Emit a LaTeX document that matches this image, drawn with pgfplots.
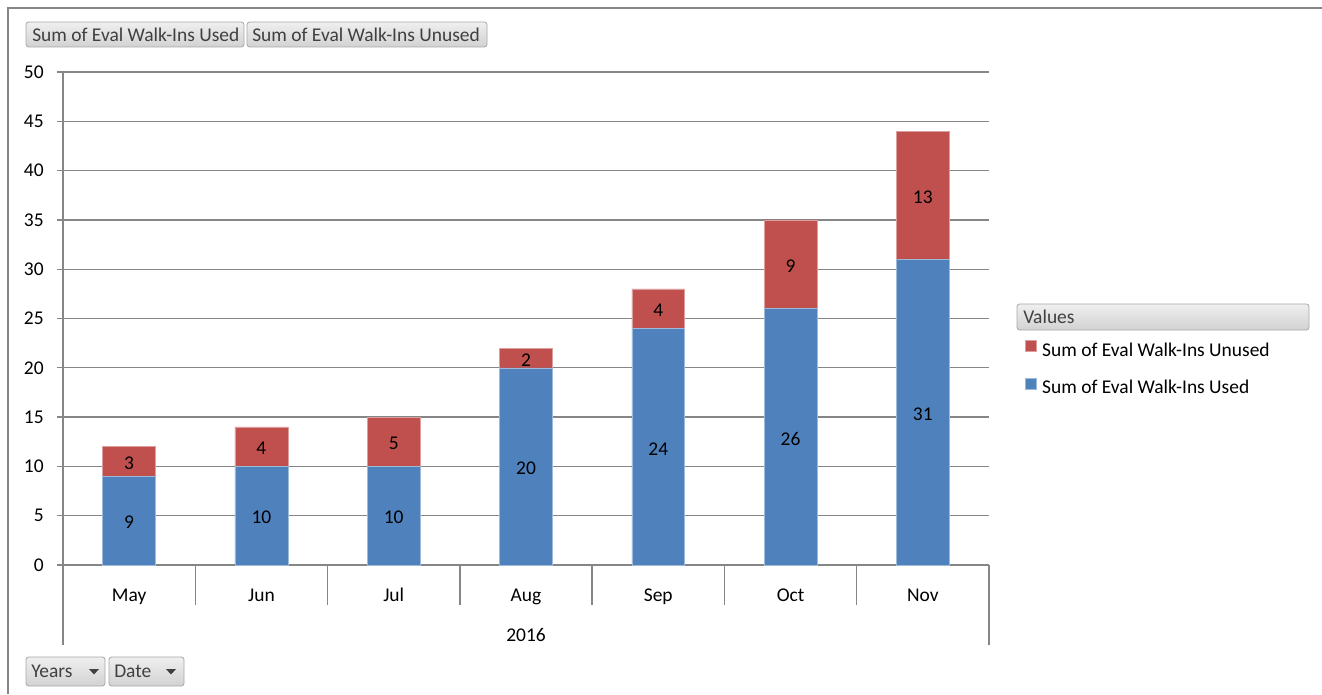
\documentclass[border=0pt]{standalone}
\usepackage{fontspec}
\setmainfont{Carlito}
\usepackage{pgfplots}
\usepackage{pgfplotstable}
\pgfplotsset{compat=1.18}

\definecolor{usedblue}{HTML}{4F81BD}
\definecolor{unusedred}{HTML}{C0504D}
\definecolor{axisgray}{HTML}{868686}
\definecolor{btnedge}{HTML}{A8A8A8}
\definecolor{btntop}{HTML}{EFEFEF}
\definecolor{btnbottom}{HTML}{D2D2D2}
\definecolor{btntext}{HTML}{404040}

\newcommand{\chartfont}{\fontsize{14.6}{16}\selectfont}

% Evaluation walk-ins per month, 2016
\pgfplotstableread{
x month used unused
0 May 9  3
1 Jun 10 4
2 Jul 10 5
3 Aug 20 2
4 Sep 24 4
5 Oct 26 9
6 Nov 31 13
}\walkins

\pgfplotsset{
  /pgf/number format/assume math mode=true,
  walkin frame/.style={
    at={(47.25pt,96.75pt)}, anchor=south west,
    scale only axis, width=694.5pt, height=369.75pt,
    xmin=-0.5, xmax=6.5, ymin=0, ymax=50,
  },
}

\begin{document}
\begin{tikzpicture}
% page frame and pivot-field buttons (1 unit = 0.75pt)
\begin{scope}[x=0.75pt,y=0.75pt]
  \path[use as bounding box] (0,0) rectangle (1322,694);
  \draw[axisgray, line width=1.2pt] (8,0) -- (8,686) -- (1322,686);
  \tikzset{btn/.style={draw=btnedge, line width=0.6pt, rounded corners=2pt,
      top color=btntop, bottom color=btnbottom}}
  \tikzset{btnlabel/.style={anchor=west, inner sep=0pt, text=btntext, font=\chartfont}}
  % top buttons
  \path[btn] (26,647) rectangle (244,672);
  \node[btnlabel] at (32,659.5) {Sum of Eval Walk-Ins Used};
  \path[btn] (247,647) rectangle (487,672);
  \node[btnlabel] at (252,659.5) {Sum of Eval Walk-Ins Unused};
  % legend header
  \path[btn] (1017,364) rectangle (1309,390);
  \node[btnlabel] at (1023,377) {Values};
  % bottom buttons
  \path[btn] (26,8) rectangle (105,37);
  \node[btnlabel] at (31,22.5) {Years};
  \fill[btntext] (89,25) -- (99,25) -- (94,19.5) -- cycle;
  \path[btn] (109,8) rectangle (184,37);
  \node[btnlabel] at (114,22.5) {Date};
  \fill[btntext] (166,25) -- (176,25) -- (171,19.5) -- cycle;
\end{scope}

\begin{axis}[
  walkin frame,
  ybar stacked, bar width=0.4,
  xtick={0,...,6},
  xticklabels from table={\walkins}{month},
  ytick={0,5,...,50},
  axis x line*=bottom, axis y line*=left,
  axis line style={axisgray, line width=1pt, -},
  ymajorgrids, grid style={axisgray, line width=1pt},
  major x tick style={draw=none},
  ytick style={axisgray, line width=1pt},
  tick align=outside, major tick length=4.5pt,
  tick label style={font=\chartfont, text=black},
  yticklabel style={anchor=east, inner sep=0pt, xshift=-9.75pt},
  xticklabel style={anchor=base, inner sep=0pt, yshift=-22.5pt},
  xlabel={2016},
  xlabel style={at={(axis description cs:0.5,0)}, anchor=base,
    inner sep=0pt, yshift=-57pt, font=\chartfont},
  clip=false,
  reverse legend,
  legend cell align=left,
  legend image code/.code={\fill[#1] (0pt,0.3pt) rectangle (8.25pt,8.55pt);},
  legend style={at={(1.0389,0.457)}, anchor=north west, draw=none, fill=none,
    inner sep=0pt, row sep=13pt, column sep=4pt, font=\chartfont,
    nodes={inner sep=0pt, text height=10pt, text depth=3pt}},
]
  \addplot[fill=usedblue, draw=usedblue!55!white, line width=0.4pt]
    table[x=x, y=used] {\walkins};
  \addlegendentry{Sum of Eval Walk-Ins Used}
  \addplot[fill=unusedred, draw=unusedred!55!white, line width=0.4pt]
    table[x=x, y=unused] {\walkins};
  \addlegendentry{Sum of Eval Walk-Ins Unused}
  % category separators under the axis
  \pgfplotsinvokeforeach{0.5,1.5,2.5,3.5,4.5,5.5}{
    \draw[axisgray, line width=1pt] (axis cs:#1,0) -- ++(0pt,-30pt);
  }
  \draw[axisgray, line width=1pt] (axis cs:-0.5,0) -- ++(0pt,-60pt);
  \draw[axisgray, line width=1pt] (axis cs:6.5,0) -- ++(0pt,-60pt);
\end{axis}

% value labels centred in each segment
\begin{axis}[
  walkin frame, hide axis,
  nodes near coords, nodes near coords align=center,
  every node near coord/.append style={anchor=center, font=\chartfont,
    text=black, yshift=-1.5pt},
]
  \addplot[draw=none, mark=none, point meta=\thisrow{used}]
    table[x=x, y expr=\thisrow{used}/2] {\walkins};
  \addplot[draw=none, mark=none, point meta=\thisrow{unused}]
    table[x=x, y expr=\thisrow{used}+\thisrow{unused}/2] {\walkins};
\end{axis}
\end{tikzpicture}
\end{document}
